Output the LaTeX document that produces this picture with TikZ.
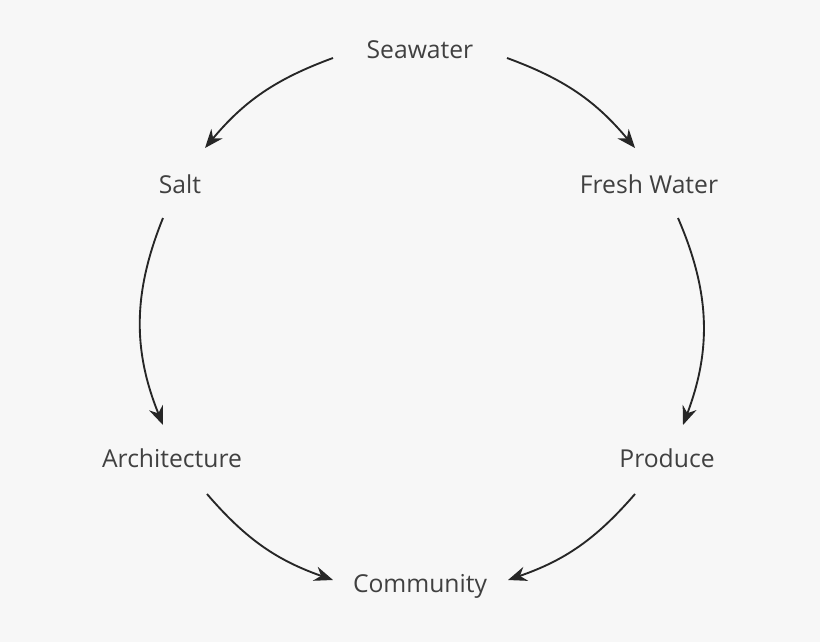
\documentclass[tikz,border=0pt]{standalone}
\usepackage{fontspec}
\setmainfont{Open Sans}
\usetikzlibrary{arrows.meta}

\begin{document}
\begin{tikzpicture}[x=0.75pt, y=-0.75pt,
    word/.style={font=\fontsize{18.5}{20}\selectfont, text=black!75, inner sep=2pt},
    flow/.style={-{Stealth[length=14pt, width=11pt]}, line width=1.4pt, black!85}]
  \fill[black!3] (0,0) rectangle (820,642);
  \useasboundingbox (0,0) rectangle (820,642);

  \node[word] (sea) at (420,50) {Seawater};
  \node[word] (salt) at (180,184) {Salt};
  \node[word] (fresh) at (649,184) {Fresh Water};
  \node[word] (arch) at (172,458) {Architecture};
  \node[word] (prod) at (667,458) {Produce};
  \node[word] (comm) at (420,586) {Community};

  % connector ends
  \coordinate (seaL) at (333,58);
  \coordinate (seaR) at (507,58);
  \coordinate (saltT) at (205,148);
  \coordinate (saltB) at (163,218);
  \coordinate (freshT) at (635,148);
  \coordinate (freshB) at (678,218);
  \coordinate (archT) at (163,425);
  \coordinate (archB) at (207,494);
  \coordinate (prodT) at (683,425);
  \coordinate (prodB) at (635,494);
  \coordinate (commL) at (333,580);
  \coordinate (commR) at (508,580);

  \draw[flow] (seaL) to[bend right=15] (saltT);
  \draw[flow] (seaR) to[bend left=15] (freshT);
  \draw[flow] (saltB) to[bend right=22] (archT);
  \draw[flow] (freshB) to[bend left=22] (prodT);
  \draw[flow] (archB) to[bend right=15] (commL);
  \draw[flow] (prodB) to[bend left=15] (commR);
\end{tikzpicture}
\end{document}
